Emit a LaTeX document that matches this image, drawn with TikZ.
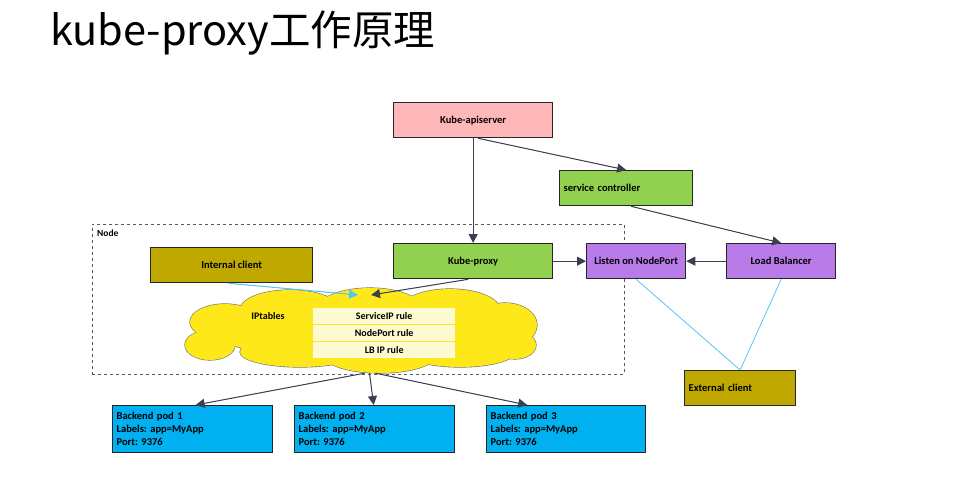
\documentclass[tikz,border=0pt]{standalone}
\usepackage{fontspec}
\setmainfont{Carlito}
\newfontfamily\cjkfont{Noto Sans CJK SC}
\usepackage{tikz}
\usetikzlibrary{positioning,arrows.meta,calc}
\definecolor{apiPink}{HTML}{FFB7B7}
\definecolor{ctlGreen}{HTML}{92D050}
\definecolor{portPurple}{HTML}{B87BE8}
\definecolor{clientOlive}{HTML}{BFA800}
\definecolor{podBlue}{HTML}{00B0F0}
\definecolor{cloudYellow}{HTML}{FFE81A}
\definecolor{ruleYellow}{HTML}{FEFAD2}
\definecolor{arrGray}{HTML}{3B3F51}
\definecolor{linkCyan}{HTML}{55C6F2}
\tikzset{
  box/.style={draw=black!85,line width=1.3pt,anchor=north west,inner sep=4pt,
    minimum height=35pt,font=\bfseries\fontsize{10.5}{13}\selectfont},
  leftbox/.style={box,align=left},
  rulerow/.style={fill=ruleYellow,anchor=north west,minimum width=142pt,minimum height=16pt,
    inner sep=0pt,font=\bfseries\fontsize{10}{11}\selectfont},
  arr/.style={-{Triangle[length=9pt,width=9pt]},line width=1pt,draw=arrGray,fill=arrGray},
  link/.style={draw=linkCyan,line width=0.8pt},
}
% puffs of the iptables cloud: centre x, centre y, x radius, y radius
\newcommand\cloudpuffs{(225,322)/35/18,(210,345)/25/15,(290,310)/50/20,(370,312)/55/24,
  (450,310)/50/21,(505,325)/32/22,(515,345)/21/14,(300,352)/60/15,(380,356)/55/17,
  (460,352)/55/15,(362,330)/150/30}
\frenchspacing
\begin{document}
\begin{tikzpicture}[x=1pt,y=-1pt]
\useasboundingbox (0,0) rectangle (968,496);
\node[anchor=base west,inner sep=0pt,font=\cjkfont\fontsize{41.5}{44}\selectfont] (title) at (50,45) {kube-proxy工作原理};

% node area
\node[draw=black!65,dashed,line width=0.9pt,anchor=north west,minimum width=532pt,minimum height=150pt,inner sep=0pt] (nd) at (92,224) {};
\node[anchor=north west,inner sep=0pt,font=\bfseries\fontsize{9.5}{11}\selectfont] (ndlabel) at (97,230) {Node};

% control plane
\node[box,fill=apiPink,minimum width=159pt] (api) at (393,102) {Kube-apiserver};
\node[leftbox,fill=ctlGreen,text width=125pt] (svc) at (559,170) {service controller};
\node[box,fill=ctlGreen,minimum width=159pt] (kp) at (393,243) {Kube-proxy};
\node[box,fill=portPurple,minimum width=99pt] (listen) at (586,243) {Listen on NodePort};
\node[box,fill=portPurple,minimum width=109pt] (lb) at (726,243) {Load Balancer};
\node[box,fill=clientOlive,minimum width=162pt] (inclient) at (150,247) {Internal client};
\node[leftbox,fill=clientOlive,text width=103pt] (exclient) at (684,370) {External client};

% iptables cloud
\foreach \c/\rx/\ry in \cloudpuffs
  \draw[black!55,line width=1.2pt] \c ellipse [x radius=\rx, y radius=\ry];
\foreach \c/\rx/\ry in \cloudpuffs
  \fill[cloudYellow] \c ellipse [x radius=\rx, y radius=\ry];
\node[minimum width=347pt,minimum height=85pt,inner sep=0pt] (ipt) at (361.5,330.5) {};
\node[font=\bfseries\fontsize{10}{11}\selectfont] (iptlabel) at (268,316) {IPtables};
\node[rulerow] (r1) at (313,308) {ServiceIP rule};
\node[rulerow] (r2) at (313,325) {NodePort rule};
\node[rulerow] (r3) at (313,342) {LB IP rule};
\coordinate (inhit) at (358,295);
\coordinate (kphit) at (371,295);

% backend pods
\node[leftbox,fill=podBlue,text width=152pt,minimum height=47pt] (pod1) at (112,405) {Backend pod 1\\Labels: app=MyApp\\Port: 9376};
\node[leftbox,fill=podBlue,text width=152pt,minimum height=47pt] (pod2) at (294,405) {Backend pod 2\\Labels: app=MyApp\\Port: 9376};
\node[leftbox,fill=podBlue,text width=151pt,minimum height=47pt] (pod3) at (486,405) {Backend pod 3\\Labels: app=MyApp\\Port: 9376};

% connectors
\draw[arr] (api.south) -- (kp.north);
\draw[arr] ([xshift=5pt]api.south) -- (svc.north);
\draw[arr] ([xshift=5pt]svc.south) -- (lb.north);
\draw[arr] (kp.east) -- (listen.west);
\draw[arr] (lb.west) -- (listen.east);
\draw[arr] ([xshift=-5pt]kp.south) -- (kphit);
\draw[-{Triangle[length=9pt,width=9pt]},line width=1pt,draw=linkCyan,fill=podBlue] ([xshift=-3pt]inclient.south) -- (inhit);
\draw[arr] ([xshift=3pt]ipt.south) -- ([xshift=3pt]pod1.north);
\draw[arr] ([xshift=8pt]ipt.south) -- ([xshift=-1pt]pod2.north);
\draw[arr] ([xshift=14pt]ipt.south) -- ([xshift=-39pt]pod3.north);
\draw[link] (listen.south) -- (exclient.north);
\draw[link] (lb.south) -- (exclient.north);
\end{tikzpicture}
\end{document}
